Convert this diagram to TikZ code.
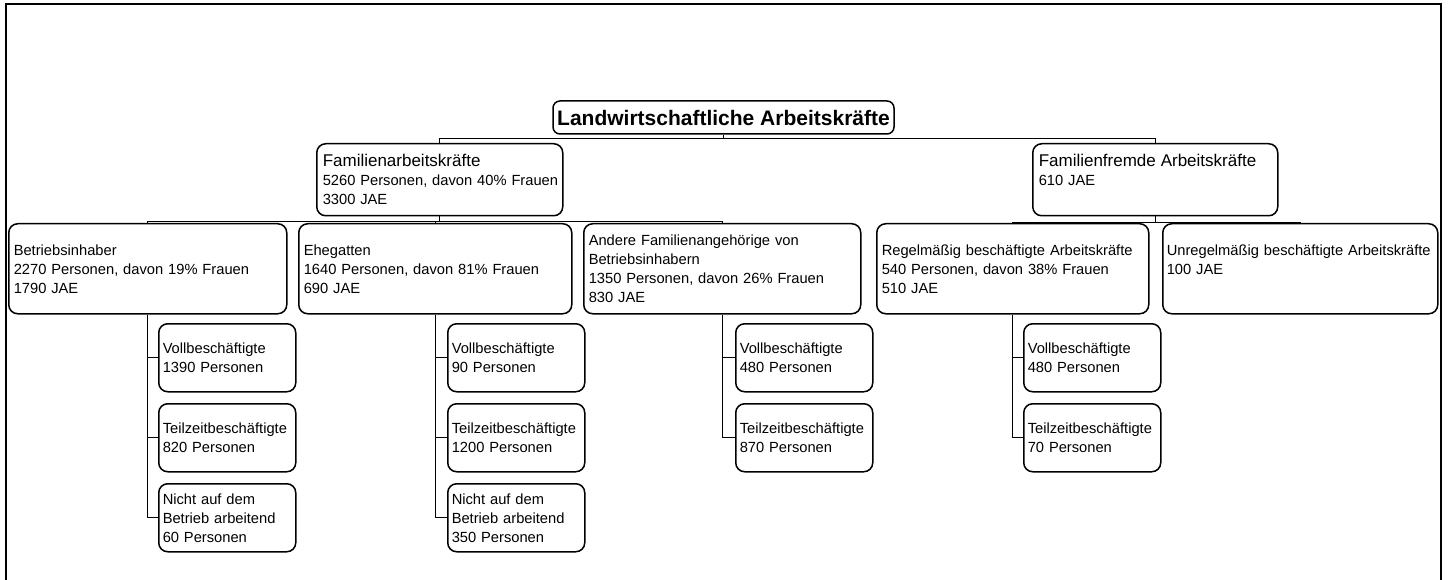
\documentclass[tikz,border=0pt]{standalone}
\usepackage{fontspec}
\setmainfont{Liberation Sans}
\begin{document}
\begin{tikzpicture}[x=1pt,y=-1pt,
  box/.style={draw, rounded corners=9pt, line width=1.5pt, anchor=north west, inner xsep=5pt, inner ysep=0pt, align=left, font=\fontsize{14.7}{19}\selectfont},
  kid/.style={box, inner xsep=4pt, text width=129pt, minimum height=68pt},
  lvtwo/.style={box, minimum height=90pt},
  lvone/.style={box, inner xsep=6pt, minimum height=72pt},
  conn/.style={line width=1pt}]
\useasboundingbox (0,0) rectangle (1449,580);
\draw[line width=1.6pt] (6,4) rectangle (1441,600);
% root
\node[draw, rounded corners=7pt, line width=1.5pt, minimum width=341pt, minimum height=33pt, inner sep=0pt, font=\bfseries\fontsize{21}{24}\selectfont] (root) at (723.5,117.5) {Landwirtschaftliche Arbeitskräfte};
% level 1
\node[lvone, text width=234pt] (fa) at (316,143) {{\fontsize{17}{20}\selectfont Familienarbeitskräfte}\\\mbox{5260 Personen, davon 40\% Frauen}\\3300 JAE};
\node[lvone, text width=233pt] (ff) at (1032,143) {{\fontsize{17}{20}\selectfont\mbox{Familienfremde Arbeitskräfte}}\\610 JAE\\\phantom{0}};
% level 2
\node[lvtwo, text width=268pt] (bi) at (8,223) {Betriebsinhaber\\\mbox{2270 Personen, davon 19\% Frauen}\\1790 JAE};
\node[lvtwo, text width=263pt] (eh) at (298,223) {Ehegatten\\\mbox{1640 Personen, davon 81\% Frauen}\\690 JAE};
\node[lvtwo, text width=267pt] (an) at (583,223) {\mbox{Andere Familienangehörige von}\\Betriebsinhabern\\\mbox{1350 Personen, davon 26\% Frauen}\\830 JAE};
\node[lvtwo, text width=262pt] (rb) at (876,223) {\mbox{Regelmäßig beschäftigte Arbeitskräfte}\\\mbox{540 Personen, davon 38\% Frauen}\\510 JAE};
\node[lvtwo, inner xsep=4pt, text width=267pt] (ub) at (1162,223) {\mbox{Unregelmäßig beschäftigte Arbeitskräfte}\\100 JAE\\\phantom{0}};
% level 3
\node[kid] (bi1) at (158,323) {\mbox{Vollbeschäftigte}\\1390 Personen};
\node[kid] (bi2) at (158,403) {\mbox{Teilzeitbeschäftigte}\\820 Personen};
\node[kid] (bi3) at (158,483) {Nicht auf dem\\\mbox{Betrieb arbeitend}\\60 Personen};
\node[kid] (eh1) at (447,323) {\mbox{Vollbeschäftigte}\\90 Personen};
\node[kid] (eh2) at (447,403) {\mbox{Teilzeitbeschäftigte}\\1200 Personen};
\node[kid] (eh3) at (447,483) {Nicht auf dem\\\mbox{Betrieb arbeitend}\\350 Personen};
\node[kid] (an1) at (735,323) {\mbox{Vollbeschäftigte}\\480 Personen};
\node[kid] (an2) at (735,403) {\mbox{Teilzeitbeschäftigte}\\870 Personen};
\node[kid] (rb1) at (1023,323) {\mbox{Vollbeschäftigte}\\480 Personen};
\node[kid] (rb2) at (1023,403) {\mbox{Teilzeitbeschäftigte}\\70 Personen};
% connectors
\draw[conn] (root.south) -- ++(0,4) -| (fa.north);
\draw[conn] (root.south) -- ++(0,4) -| (ff.north);
\draw[conn] (fa.south) -- ++(0,5) -| (bi.north);
\draw[conn] (fa.south) -- ++(0,5) -| (eh.north);
\draw[conn] (fa.south) -- ++(0,5) -| (an.north);
\draw[conn] (ff.south) -- ++(0,6) -| (rb.north);
\draw[conn] (ff.south) -- ++(0,6) -| (ub.north);
\draw[conn] (bi.south) |- (bi1.west);
\draw[conn] (bi.south) |- (bi2.west);
\draw[conn] (bi.south) |- (bi3.west);
\draw[conn] (eh.south) |- (eh1.west);
\draw[conn] (eh.south) |- (eh2.west);
\draw[conn] (eh.south) |- (eh3.west);
\draw[conn] (an.south) |- (an1.west);
\draw[conn] (an.south) |- (an2.west);
\draw[conn] (rb.south) |- (rb1.west);
\draw[conn] (rb.south) |- (rb2.west);
\end{tikzpicture}
\end{document}
